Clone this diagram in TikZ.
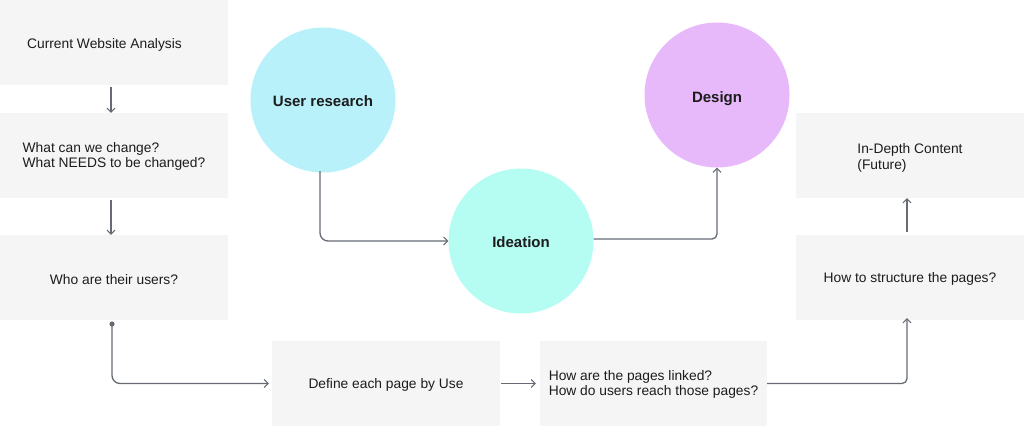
\documentclass[tikz,border=0pt]{standalone}
\usepackage{fontspec}
\setmainfont{Liberation Sans}
\usetikzlibrary{arrows.meta}
\definecolor{boxfill}{HTML}{F5F5F5}
\definecolor{linecol}{HTML}{656A73}
\definecolor{txtcol}{HTML}{1C1C1C}
\definecolor{urfill}{HTML}{B9F1FB}
\definecolor{idfill}{HTML}{B5FCF3}
\definecolor{dsfill}{HTML}{E7B9FB}
% lowered block of left-aligned lines, keeping its natural size for centring
\newcommand\lowtext[2][2.5pt]{\raisebox{-#1}[\height][\depth]{\begin{tabular}{@{}l@{}}#2\end{tabular}}}
\newcommand\lowlabel[2][1.5pt]{\raisebox{-#1}[\height][\depth]{#2}}
\tikzset{
  stepbox/.style={rectangle, fill=boxfill, draw=none, minimum width=228pt, minimum height=85pt,
    inner sep=0pt, text=txtcol, font=\fontsize{13.8}{15.5}\selectfont},
  phase/.style={circle, draw=none, minimum size=145pt, inner sep=0pt, text=txtcol,
    font=\fontsize{15}{18}\selectfont\bfseries},
  conn/.style={draw=linecol, line width=1.3pt, -{Straight Barb[length=4pt,width=8pt,line width=1pt]}},
}
\begin{document}
\begin{tikzpicture}[x=1pt,y=-1pt]
\useasboundingbox (0,0) rectangle (1024,426);
% left column
\node[stepbox] (b1) at (114,42.5) {\lowtext[3pt]{\hspace*{-19pt}Current Website Analysis}};
\node[stepbox] (b2) at (114,155.5) {\lowtext[1.5pt]{What can we change?\\What NEEDS to be changed?}};
\node[stepbox] (b3) at (114,277.5) {\lowtext[4pt]{Who are their users?}};
% bottom row
\node[stepbox] (def) at (386,383.5) {\lowtext[2pt]{Define each page by Use}};
\node[stepbox, minimum width=227pt] (how) at (653.5,383.5) {\lowtext[1.5pt]{How are the pages linked?\\How do users reach those pages?}};
% right column
\node[stepbox] (st) at (910,277.5) {\lowtext[2pt]{How to structure the pages?}};
\node[stepbox] (ind) at (910,155.5) {\lowtext[3pt]{In-Depth Content\\(Future)}};
% circles
\node[phase, fill=urfill] (ur) at (323,100) {\lowlabel{User research}};
\node[phase, fill=idfill] (ide) at (521,241) {\lowlabel{Ideation}};
\node[phase, fill=dsfill] (ds) at (717,95) {\lowlabel[4pt]{Design}};
% connectors
\coordinate (dot) at (112,324);
\coordinate (c1) at (111,87);
\coordinate (c2) at (111,200);
\draw[conn] (c1) -- (c1 |- b2.north);
\draw[conn] (c2) -- (c2 |- b3.north);
\fill[linecol] (dot) circle (2.6pt);
\draw[conn, rounded corners=8pt] (dot) |- ([xshift=-3pt]def.west);
\draw[conn] ([xshift=1pt]def.east) -- ([xshift=-4pt]how.west);
\coordinate (c3) at (907,383.5);
\coordinate (c4) at (907,232);
\draw[conn, rounded corners=5pt] (how.east) -- (c3) -- ([yshift=2pt]c3 |- st.south);
\draw[conn] (c4) -- (c4 |- ind.south);
\coordinate (u1) at (320,171);
\draw[conn, rounded corners=8pt] (u1) |- (ide.west);
\coordinate (d1) at (717,239);
\draw[conn, rounded corners=5pt] (ide.east |- d1) -- (d1) -- (ds.south);
\end{tikzpicture}
\end{document}
